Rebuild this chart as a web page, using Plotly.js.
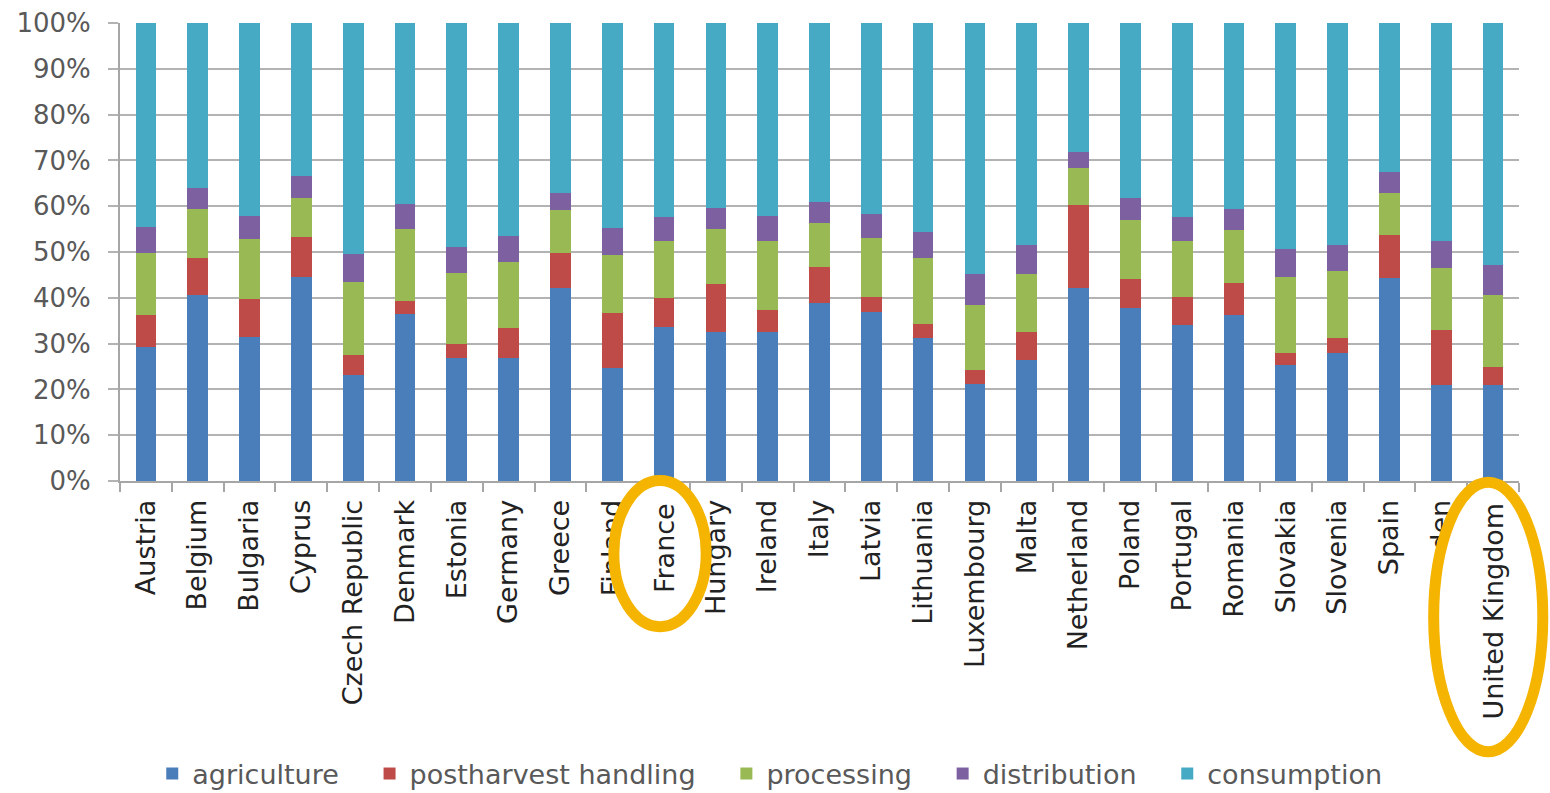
<!DOCTYPE html>
<html>
<head>
<meta charset="utf-8">
<script src="https://cdn.plot.ly/plotly-3.0.1.min.js"></script>
<style>html,body{margin:0;padding:0;background:#fff;}#chart{width:1550px;height:793px;}</style>
</head>
<body>
<div id="chart"></div>
<script>
const countries = ["Austria","Belgium","Bulgaria","Cyprus","Czech Republic","Denmark","Estonia","Germany","Greece","Finland","France","Hungary","Ireland","Italy","Latvia","Lithuania","Luxembourg","Malta","Netherland","Poland","Portugal","Romania","Slovakia","Slovenia","Spain","Sweden","United Kingdom"];

const agriculture  = [29.3,40.6,31.5,44.6,23.1,36.5,26.8,26.8,42.1,24.6,33.7,32.6,32.6,38.8,37.0,31.2,21.2,26.4,42.1,37.7,34.1,36.2,25.3,27.9,44.3,21.0,21.0];
const postharvest  = [6.9,8.2,8.2,8.7,4.4,2.9,3.1,6.5,7.6,12.0,6.2,10.4,4.7,7.9,3.1,3.1,3.0,6.2,18.2,6.3,6.1,7.0,2.7,3.3,9.4,12.0,4.0];
const processing   = [13.5,10.5,13.1,8.4,16.0,15.6,15.6,14.6,9.5,12.7,12.4,12.0,15.0,9.6,12.9,14.3,14.2,12.7,8.0,13.0,12.1,11.6,16.6,14.7,9.2,13.4,15.6];
const distribution = [5.8,4.6,5.1,4.9,6.1,5.5,5.7,5.6,3.7,5.9,5.4,4.5,5.6,4.7,5.4,5.8,6.9,6.2,3.5,4.7,5.4,4.5,6.0,5.6,4.6,5.9,6.6];
const consumption  = [44.5,36.1,42.1,33.4,50.4,39.5,48.8,46.5,37.1,44.8,42.3,40.5,42.1,39.0,41.6,45.6,54.7,48.5,28.2,38.3,42.3,40.7,49.4,48.5,32.5,47.7,52.8];

const seriesNames  = ["agriculture","postharvest handling","processing","distribution","consumption"];
const seriesValues = [agriculture, postharvest, processing, distribution, consumption];
const seriesColors = ["#4a7ebb","#be4b48","#98b954","#7d60a0","#46aac5"];

const yTickVals   = [0,10,20,30,40,50,60,70,80,90,100];
const yTickLabels = ["0%","10%","20%","30%","40%","50%","60%","70%","80%","90%","100%"];

const FONT = "DejaVu Sans, Liberation Sans, sans-serif";
const PAD = "\u00a0\u00a0\u00a0";

const traces = seriesNames.map((n, i) => ({
  type: "bar",
  name: n + PAD,
  x: countries,
  y: seriesValues[i],
  marker: {color: seriesColors[i], line: {width: 0}},
  hoverinfo: "x+y"
}));

const layout = {
  width: 1550,
  height: 793,
  paper_bgcolor: "#ffffff",
  plot_bgcolor: "#ffffff",
  barmode: "stack",
  barnorm: "percent",
  bargap: 0.6,
  margin: {l: 120, r: 31, t: 23, b: 312, autoexpand: false},
  font: {family: FONT, color: "#404040"},
  xaxis: {
    type: "category",
    tickangle: -90,
    tickfont: {family: FONT, size: 27, color: "#222222"},
    showline: true,
    linecolor: "#a6a6a6",
    linewidth: 2,
    ticks: "outside",
    tickson: "boundaries",
    ticklen: 9,
    tickwidth: 2,
    tickcolor: "#a6a6a6",
    ticklabelstandoff: 6,
    showgrid: false,
    zeroline: false,
    automargin: false
  },
  yaxis: {
    range: [0, 100],
    tickmode: "array",
    tickvals: yTickVals,
    ticktext: yTickLabels,
    tickfont: {family: FONT, size: 26, color: "#595959"},
    showgrid: true,
    gridcolor: "#b3b3b3",
    gridwidth: 2,
    showline: true,
    linecolor: "#a6a6a6",
    linewidth: 2,
    ticks: "outside",
    ticklen: 10,
    tickwidth: 2,
    tickcolor: "#b3b3b3",
    ticklabelstandoff: 12,
    zeroline: false,
    automargin: false
  },
  legend: {
    orientation: "h",
    xref: "container", yref: "container",
    x: 0.505, xanchor: "center",
    y: 0.024, yanchor: "middle",
    font: {family: FONT, size: 27, color: "#595959"},
    traceorder: "normal"
  },
  shapes: [
    {type: "circle", xref: "paper", yref: "paper", x0: 0.353, x1: 0.419, y0: -0.318, y1: 0.001,
     line: {color: "#f5b400", width: 11}, fillcolor: "#ffffff", layer: "above"},
    {type: "circle", xref: "paper", yref: "paper", x0: 0.939, x1: 1.017, y0: -0.591, y1: -0.003,
     line: {color: "#f5b400", width: 11}, fillcolor: "#ffffff", layer: "above"}
  ],
  annotations: [
    {xref: "x", yref: "paper", x: "France", y: 0, yshift: -20, text: "France", textangle: -90,
     showarrow: false, yanchor: "top", font: {family: FONT, size: 27, color: "#222222"}},
    {xref: "x", yref: "paper", x: "United Kingdom", y: 0, yshift: -20, text: "United Kingdom", textangle: -90,
     showarrow: false, yanchor: "top", font: {family: FONT, size: 27, color: "#222222"}}
  ]
};

Plotly.newPlot("chart", traces, layout, {displayModeBar: false, staticPlot: true});
</script>
</body>
</html>
